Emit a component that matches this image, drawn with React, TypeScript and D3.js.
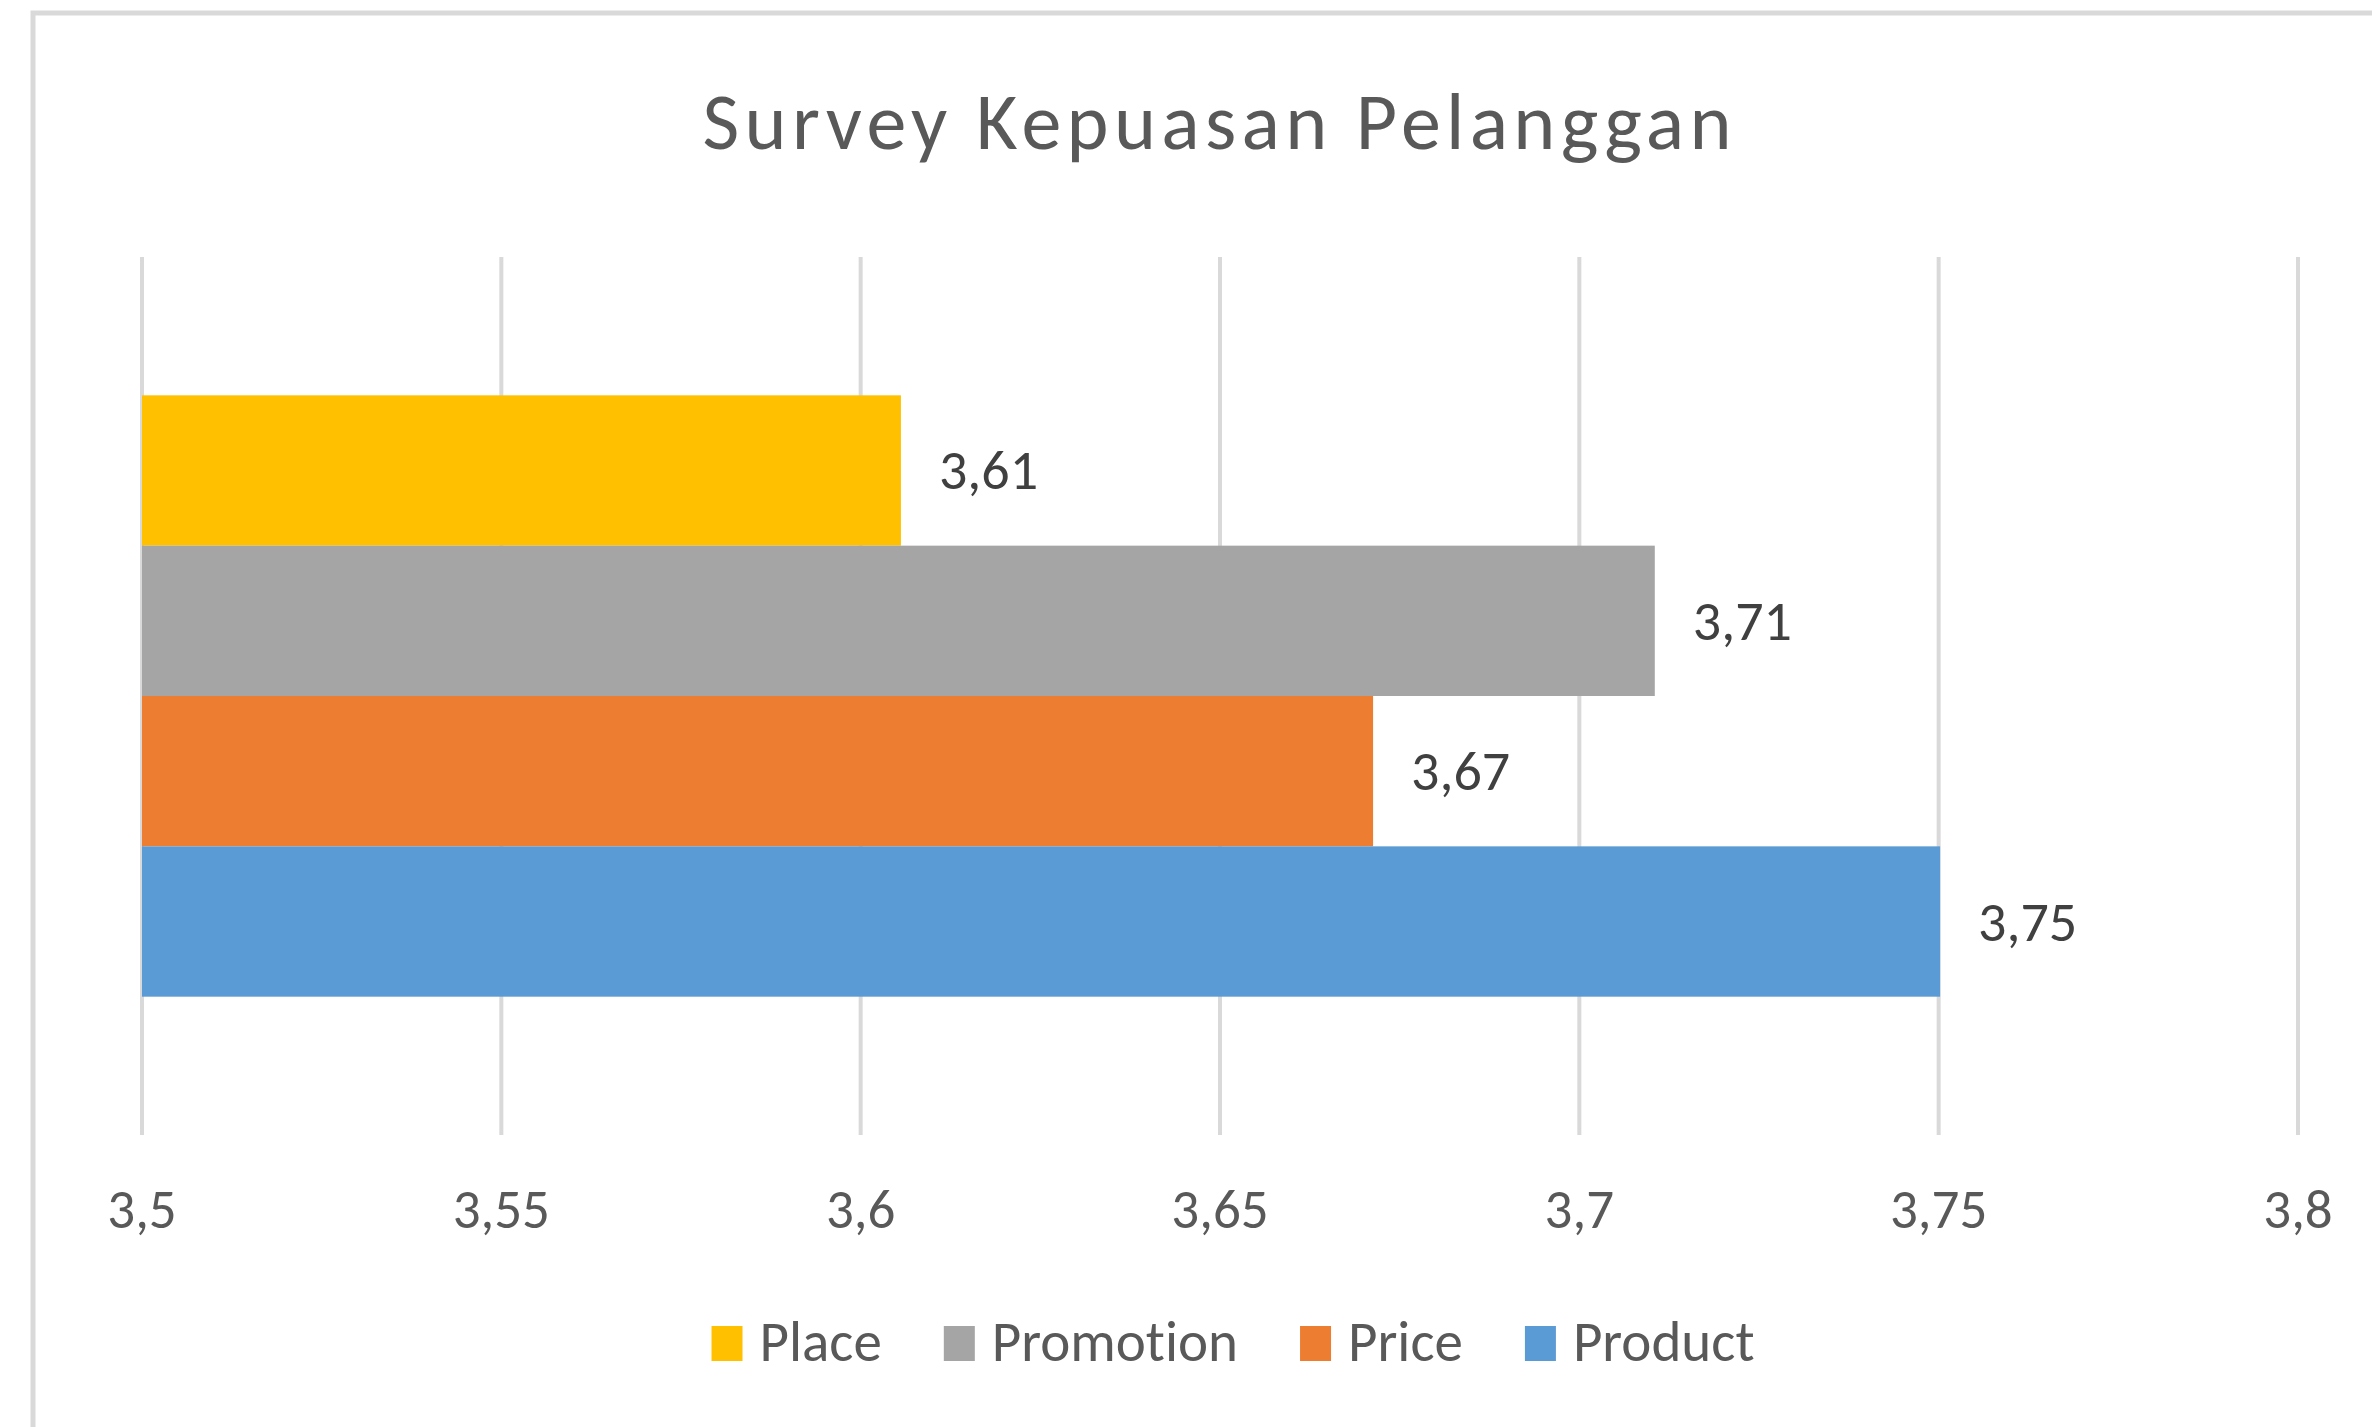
import React, { useLayoutEffect, useRef, useState } from "react";
import * as d3 from "d3";

// ---- data ----
const seriesNames = ["Place", "Promotion", "Price", "Product"]; // top to bottom
const seriesValues = [3.6056, 3.7105, 3.6713, 3.7502];
const seriesColors = ["#FFC000", "#A5A5A5", "#ED7D31", "#5B9BD5"];
const tickValues = [3.5, 3.55, 3.6, 3.65, 3.7, 3.75, 3.8];
const tickLabels = ["3,5", "3,55", "3,6", "3,65", "3,7", "3,75", "3,8"];
const chartTitle = "Survey Kepuasan Pelanggan";

const W = 2372;
const H = 1427;
const FONT = "Carlito, Calibri, Lato, 'Open Sans', sans-serif";

export default function App() {
  const x = d3.scaleLinear().domain([3.5, 3.8]).range([142, 2298]);
  const y = d3
    .scaleBand<string>()
    .domain(seriesNames)
    .range([257, 1135])
    .paddingInner(0)
    .paddingOuter(0.92);
  const fmt = (v: number) => d3.format(".2f")(v).replace(".", ",");

  const legendRefs = useRef<(SVGTextElement | null)[]>([]);
  const [widths, setWidths] = useState<number[]>(seriesNames.map(() => 120));
  useLayoutEffect(() => {
    const w = legendRefs.current.map((el) => (el ? el.getComputedTextLength() : 120));
    setWidths(w);
  }, []);

  const sw = 31;
  const swH = 35;
  const gapText = 17;
  const gapItem = 62;
  const total =
    widths.reduce((a, b) => a + b, 0) +
    seriesNames.length * (sw + gapText) +
    (seriesNames.length - 1) * gapItem;
  const legendCenter = 1233;
  let cursor = legendCenter - total / 2;
  const legendPos = widths.map((w) => {
    const p = cursor;
    cursor += sw + gapText + w + gapItem;
    return p;
  });

  const [gx0, gx1] = y.range();

  return (
    <svg
      width={W}
      height={H}
      style={{ position: "absolute", left: 0, top: 0, background: "#fff", fontVariantLigatures: "none" }}
      fontFamily={FONT}
    >
      <rect x={0} y={0} width={W} height={H} fill="#fff" />
      <rect x={33} y={13} width={4000} height={4000} fill="none" stroke="#D9D9D9" strokeWidth={5} />
      <text
        x={1217}
        y={149}
        textAnchor="middle"
        fontSize={80}
        fill="#595959"
        textLength={1029}
        lengthAdjust="spacing"
      >
        {chartTitle}
      </text>
      {tickValues.map((t, i) => (
        <g key={"g" + i}>
          <line x1={x(t)} x2={x(t)} y1={gx0} y2={gx1} stroke="#D9D9D9" strokeWidth={4} />
          <text x={x(t)} y={1228} textAnchor="middle" fontSize={55} fill="#595959">
            {tickLabels[i]}
          </text>
        </g>
      ))}
      {seriesNames.map((s, i) => {
        const y0 = y(s) as number;
        const bw = y.bandwidth();
        return (
          <g key={s}>
            <rect
              x={x(3.5)}
              y={y0}
              width={x(seriesValues[i]) - x(3.5)}
              height={bw}
              fill={seriesColors[i]}
            />
            <text
              x={x(seriesValues[i]) + 38}
              y={y0 + bw / 2 + 19}
              fontSize={56}
              fill="#404040"
            >
              {fmt(seriesValues[i])}
            </text>
          </g>
        );
      })}
      {seriesNames.map((s, i) => (
        <g key={"l" + s}>
          <rect x={legendPos[i]} y={1326} width={sw} height={swH} fill={seriesColors[i]} />
          <text
            ref={(el) => {
              legendRefs.current[i] = el;
            }}
            x={legendPos[i] + sw + gapText}
            y={1361}
            fontSize={57}
            fill="#595959"
          >
            {s}
          </text>
        </g>
      ))}
    </svg>
  );
}
